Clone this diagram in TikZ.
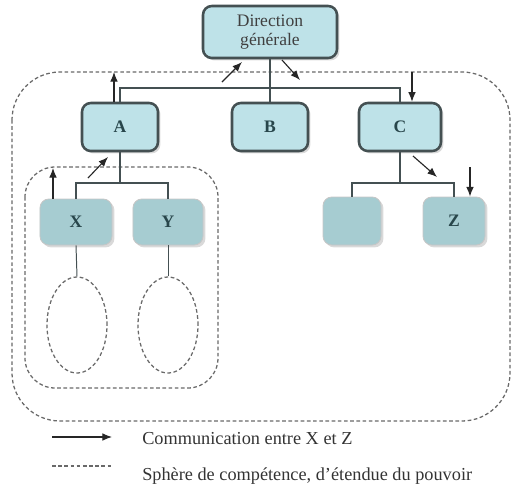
\documentclass[tikz,border=0pt]{standalone}
\usepackage{fontspec}
\setmainfont{Liberation Serif}
\usepackage{tikz}
\usetikzlibrary{arrows.meta,positioning,shadows,shapes.geometric}
\definecolor{boxtop}{RGB}{190,226,232}
\definecolor{boxlow}{RGB}{166,204,209}
\definecolor{boxline}{RGB}{68,80,82}
\definecolor{boxtext}{RGB}{40,70,75}
\definecolor{spheregray}{RGB}{105,105,105}
\tikzset{
        unit/.style={rectangle, rounded corners=2.2mm, draw=boxline, line width=1.8pt,
            fill=boxtop, text=boxtext, font=\bfseries\fontsize{12.5}{14}\selectfont,
            drop shadow={opacity=0.3, shadow xshift=0.6mm, shadow yshift=-0.6mm}},
        subunit/.style={unit, draw=gray!45, line width=0.6pt, fill=boxlow},
        link/.style={draw=boxline, line width=1.6pt},
        stem/.style={draw=boxline, line width=0.7pt},
        comm/.style={-{Latex[length=2.4mm,width=1.9mm]}, line width=0.8pt, black!85},
        sphere/.style={draw=spheregray, dash pattern=on 2.6pt off 1.8pt, line width=0.9pt},
        legend/.style={anchor=west, inner sep=0pt, text=black!80, font=\fontsize{13}{15}\selectfont},
    }

\begin{document}
\begin{tikzpicture}[x=0.25mm, y=-0.25mm]
    \useasboundingbox (0,0) rectangle (512,490);
    % spheres of competence
    \draw[sphere, rounded corners=12mm] (12,72) rectangle (510,421);
    \draw[sphere, rounded corners=7.5mm] (25,167) rectangle (218,388);

    % units
    \node[unit, align=center, minimum width=33.5mm, minimum height=13mm, inner sep=1pt,
          font=\fontsize{12.5}{14}\selectfont, text=black!75] (dg) at (270,32) {Direction\\générale};
    \node[unit, minimum width=19mm, minimum height=12mm] (A) at (120,127) {A};
    \node[unit, minimum width=19mm, minimum height=12mm] (B) at (270,127) {B};
    \node[unit, minimum width=20.5mm, minimum height=12mm] (C) at (400,127) {C};
    \node[subunit, minimum width=18mm, minimum height=11.5mm] (X) at (76,222) {X};
    \node[subunit, minimum width=17.5mm, minimum height=11.5mm] (Y) at (168,222) {Y};
    \node[subunit, minimum width=14.5mm, minimum height=12mm] (E) at (352,221) {};
    \node[subunit, minimum width=15.5mm, minimum height=12mm] (Z) at (454,221) {Z};
    \node[sphere, ellipse, minimum width=15mm, minimum height=24mm] (ex) at (77,325) {};
    \node[sphere, ellipse, minimum width=15mm, minimum height=24mm] (ey) at (168,325) {};

    % hierarchy
    \coordinate (bus1) at (0,88);
    \coordinate (bus2) at (0,183);
    \draw[link] (dg.south) -- (B.north);
    \draw[link] (A.north) -- (A.north |- bus1) -| (C.north);
    \draw[link] (A.south) -- (A.south |- bus2);
    \draw[link] (X.north) -- (X.north |- bus2) -| (Y.north);
    \draw[link] (C.south) -- (C.south |- bus2);
    \draw[link] (E.north) -- (E.north |- bus2) -| (Z.north);
    \foreach \u/\s in {X/ex, Y/ey}
        \draw[stem] (\u.south) -- (\s.north);

    % communication
    \coordinate (upA) at (114,72);
    \coordinate (upX) at (53,168);
    \coordinate (downC) at (412,72);
    \coordinate (downZ) at (470,167);
    \coordinate (toDG1) at (222,82);   \coordinate (toDG2) at (242,62);
    \coordinate (fromDG1) at (282,60); \coordinate (fromDG2) at (300,80);
    \coordinate (toA1) at (88,178);    \coordinate (toA2) at (108,157);
    \coordinate (fromC1) at (413,156); \coordinate (fromC2) at (437,177);
    \draw[comm] (A.north -| upA) -- (upA);
    \draw[comm] (X.north -| upX) -- (upX);
    \draw[comm] (downC) -- (downC |- C.north);
    \draw[comm] (downZ) -- (downZ |- Z.north);
    \draw[comm] (toDG1) -- (toDG2);
    \draw[comm] (fromDG1) -- (fromDG2);
    \draw[comm] (toA1) -- (toA2);
    \draw[comm] (fromC1) -- (fromC2);

    % legend
    \coordinate (leg1a) at (52,437); \coordinate (leg1b) at (112,437);
    \coordinate (leg2a) at (52,466); \coordinate (leg2b) at (112,466);
    \draw[comm] (leg1a) -- (leg1b);
    \draw[sphere] (leg2a) -- (leg2b);
    \node[legend] (leg1) at (142,439) {Communication entre X et Z};
    \node[legend] (leg2) at (142,476) {Sphère de compétence, d’étendue du pouvoir};
\end{tikzpicture}
\end{document}
